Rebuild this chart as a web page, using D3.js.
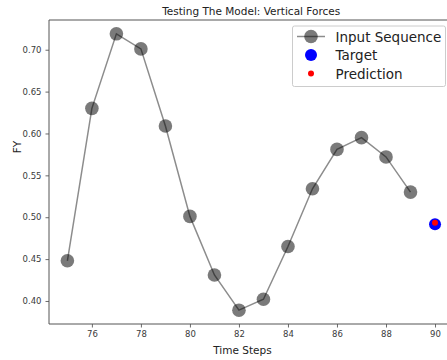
<!DOCTYPE html>
<html>
<head>
<meta charset="utf-8">
<script src="https://cdn.jsdelivr.net/npm/d3@7"></script>
<style>
  html, body { margin: 0; padding: 0; background: #fff; }
  svg { display: block; font-family: "DejaVu Sans", sans-serif; }
</style>
</head>
<body>
<svg id="chart" width="447" height="360"></svg>
<script>
// Input window of vertical force readings
const steps = [75, 76, 77, 78, 79, 80, 81, 82, 83, 84, 85, 86, 87, 88, 89];
const fy = [0.448, 0.630, 0.719, 0.701, 0.609, 0.501, 0.431, 0.389, 0.402, 0.465, 0.534, 0.581, 0.595, 0.572, 0.530];

// Next-step target and model prediction
const targetStep = [90];
const targetValue = [0.4915];
const predictionValue = [0.4935];

const xTicks = [76, 78, 80, 82, 84, 86, 88, 90];
const yTicks = [0.40, 0.45, 0.50, 0.55, 0.60, 0.65, 0.70];

(function draw() {
  const svg = d3.select("#chart");
  const plotL = 49, plotT = 20, plotB = 324, plotR = 453.4;

  // 5% data margins on each axis
  const allX = steps.concat(targetStep);
  const allY = fy.concat(targetValue, predictionValue);
  const [x0, x1] = d3.extent(allX);
  const [y0, y1] = d3.extent(allY);
  const px = (x1 - x0) * 0.05, py = (y1 - y0) * 0.05;

  const x = d3.scaleLinear().domain([x0 - px, x1 + px]).range([plotL, plotR]);
  const y = d3.scaleLinear().domain([y0 - py, y1 + py]).range([plotB, plotT]);

  // Title
  svg.append("text")
    .attr("x", (plotL + plotR) / 2).attr("y", 14.5)
    .attr("text-anchor", "middle")
    .attr("font-size", 10.5).attr("fill", "#222")
    .text("Testing The Model: Vertical Forces");

  // Axes
  const xAxis = svg.append("g")
    .attr("transform", `translate(0,${plotB})`)
    .call(d3.axisBottom(x).tickValues(xTicks).tickFormat(d3.format("d")).tickSizeOuter(0).tickSize(3.5).tickPadding(3.5));
  const yAxis = svg.append("g")
    .attr("transform", `translate(${plotL},0)`)
    .call(d3.axisLeft(y).tickValues(yTicks).tickFormat(d3.format(".2f")).tickSizeOuter(0).tickSize(3.5).tickPadding(4));

  [xAxis, yAxis].forEach(g => {
    g.select(".domain").remove();
    g.selectAll(".tick line").attr("stroke", "#444").attr("stroke-width", 0.8);
    g.selectAll(".tick text").attr("font-size", 8.5).attr("fill", "#3a3a3a")
      .attr("font-family", "DejaVu Sans, sans-serif");
  });

  // Spines: left, bottom, top
  const spine = "#555";
  svg.append("line").attr("x1", plotL).attr("x2", plotL).attr("y1", plotT).attr("y2", plotB)
    .attr("stroke", spine).attr("stroke-width", 1);
  svg.append("line").attr("x1", plotL).attr("x2", plotR).attr("y1", plotB).attr("y2", plotB)
    .attr("stroke", spine).attr("stroke-width", 1);
  svg.append("line").attr("x1", plotL).attr("x2", plotR).attr("y1", plotT).attr("y2", plotT)
    .attr("stroke", spine).attr("stroke-width", 1);

  // Axis labels
  svg.append("text")
    .attr("x", 242.5).attr("y", 354)
    .attr("text-anchor", "middle").attr("font-size", 10.5).attr("fill", "#222")
    .text("Time Steps");
  svg.append("text")
    .attr("transform", "translate(20.5,147) rotate(-90)")
    .attr("text-anchor", "middle").attr("font-size", 10.5).attr("fill", "#222")
    .text("FY");

  // Input sequence line and markers
  const seq = steps.map((s, i) => ({ s, v: fy[i] }));
  svg.append("path")
    .datum(seq)
    .attr("fill", "none")
    .attr("stroke", "#000").attr("stroke-opacity", 0.45).attr("stroke-width", 1.5)
    .attr("d", d3.line().x(d => x(d.s)).y(d => y(d.v)));
  svg.append("g").selectAll("circle")
    .data(seq).join("circle")
    .attr("cx", d => x(d.s)).attr("cy", d => y(d.v)).attr("r", 6.8)
    .attr("fill", "#000").attr("fill-opacity", 0.52);

  // Target and prediction
  svg.append("circle")
    .attr("cx", x(targetStep[0])).attr("cy", y(targetValue[0])).attr("r", 6)
    .attr("fill", "#0000ff");
  svg.append("circle")
    .attr("cx", x(targetStep[0])).attr("cy", y(predictionValue[0])).attr("r", 3)
    .attr("fill", "#ff0000");

  // Legend
  const lg = svg.append("g");
  lg.append("rect")
    .attr("x", 292.5).attr("y", 26).attr("width", 153).attr("height", 60.5).attr("rx", 2)
    .attr("fill", "#fff").attr("fill-opacity", 0.8)
    .attr("stroke", "#ccc").attr("stroke-width", 1);
  const rows = [36.5, 55, 73.5];
  lg.append("line").attr("x1", 297).attr("x2", 325).attr("y1", rows[0]).attr("y2", rows[0])
    .attr("stroke", "#000").attr("stroke-opacity", 0.45).attr("stroke-width", 1.5);
  lg.append("circle").attr("cx", 311).attr("cy", rows[0]).attr("r", 6.8)
    .attr("fill", "#000").attr("fill-opacity", 0.52);
  lg.append("circle").attr("cx", 311).attr("cy", rows[1]).attr("r", 6).attr("fill", "#0000ff");
  lg.append("circle").attr("cx", 311).attr("cy", rows[2]).attr("r", 3).attr("fill", "#ff0000");
  const labels = ["Input Sequence", "Target", "Prediction"];
  lg.selectAll("text.lab").data(labels).join("text")
    .attr("class", "lab")
    .attr("x", 335.5).attr("y", (d, i) => rows[i] + 5)
    .attr("font-size", 13.5).attr("fill", "#222")
    .text(d => d);
})();
</script>
</body>
</html>
